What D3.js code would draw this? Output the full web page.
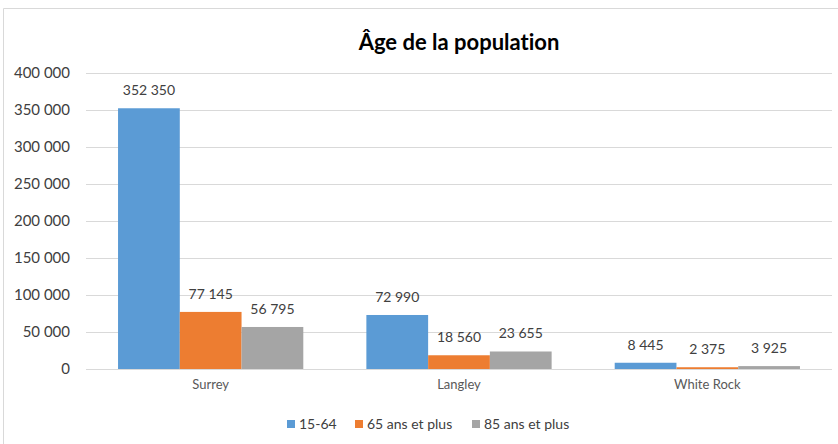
<!DOCTYPE html>
<html><head><meta charset="utf-8">
<script src="https://cdn.jsdelivr.net/npm/d3@7"></script>
<style>body{margin:0;background:#fff}svg{display:block}text{font-variant-ligatures:none}</style>
</head><body>
<svg id="c" width="838" height="444"></svg>
<script>
const categories = ["Surrey", "Langley", "White Rock"];
const seriesNames = ["15-64", "65 ans et plus", "85 ans et plus"];
const s1564 = [352350, 72990, 8445];
const s65 = [77145, 18560, 2375];
const s85 = [56795, 23655, 3925];
const yTicks = [0, 50000, 100000, 150000, 200000, 250000, 300000, 350000, 400000];
const colors = ["#5B9BD5", "#ED7D31", "#A5A5A5"];
const series = [s1564, s65, s85];

const font = "Lato, 'Open Sans', sans-serif";
const svg = d3.select("#c");
const W = 838, H = 444;
svg.append("rect").attr("x", 0).attr("y", 0).attr("width", W).attr("height", H).attr("fill", "#fff");
// chart border
svg.append("path").attr("d", "M3.5,444 V8.5 H838").attr("fill", "none").attr("stroke", "#d9d9d9");

const x0 = d3.scaleBand().domain(categories).range([86.5, 831.5]).paddingInner(0.254).paddingOuter(0.127);
const x1 = d3.scaleBand().domain(d3.range(3)).range([0, x0.bandwidth()]);
const y = d3.scaleLinear().domain([0, 400000]).range([369, 73]);

const fmt = v => d3.format(",")(v).replace(/,/g, " ");

// gridlines
svg.append("g").selectAll("line").data(yTicks).join("line")
  .attr("x1", 86).attr("x2", 832)
  .attr("y1", d => Math.round(y(d)) + 0.5).attr("y2", d => Math.round(y(d)) + 0.5)
  .attr("stroke", "#d9d9d9").attr("stroke-width", 1);

// y axis labels
const yAxis = d3.axisLeft(y).tickValues(yTicks).tickSize(0).tickPadding(0).tickFormat(fmt);
const ga = svg.append("g").attr("transform", "translate(70,0)").call(yAxis);
ga.select(".domain").remove();
ga.selectAll("text").attr("font-family", font).attr("font-size", 15).attr("fill", "#404040");

// bars
const groups = svg.append("g").selectAll("g").data(categories).join("g")
  .attr("transform", d => `translate(${x0(d)},0)`);
groups.selectAll("rect").data((d, i) => series.map((s, j) => ({j, v: s[i]}))).join("rect")
  .attr("x", d => x1(d.j)).attr("width", x1.bandwidth())
  .attr("y", d => y(d.v)).attr("height", d => y(0) - y(d.v))
  .attr("fill", d => colors[d.j]);
groups.selectAll("text").data((d, i) => series.map((s, j) => ({j, v: s[i]}))).join("text")
  .attr("x", d => x1(d.j) + x1.bandwidth() / 2).attr("y", d => y(d.v) - 13)
  .attr("text-anchor", "middle").attr("font-family", font).attr("font-size", 14).attr("fill", "#404040")
  .text(d => fmt(d.v));

// x axis
const xAxis = d3.axisBottom(x0).tickSize(0).tickPadding(0);
const gx = svg.append("g").attr("transform", "translate(0,380)").call(xAxis);
gx.select(".domain").remove();
gx.selectAll("text").attr("font-family", font).attr("font-size", 13).attr("fill", "#595959");

// title
svg.append("text").attr("x", 459).attr("y", 50).attr("text-anchor", "middle")
  .attr("font-family", font).attr("font-weight", "bold").attr("font-size", 22).attr("fill", "#000")
  .text("Âge de la population");

// legend
const legX = [287, 355, 472];
const leg = svg.append("g").selectAll("g").data(seriesNames).join("g")
  .attr("transform", (d, i) => `translate(${legX[i]},0)`);
leg.append("rect").attr("x", 0).attr("y", 420).attr("width", 8).attr("height", 8).attr("fill", (d, i) => colors[i]);
leg.append("text").attr("x", 12).attr("y", 428.5).attr("font-family", font).attr("font-size", 14).attr("fill", "#404040").text(d => d);
</script>
</body></html>
